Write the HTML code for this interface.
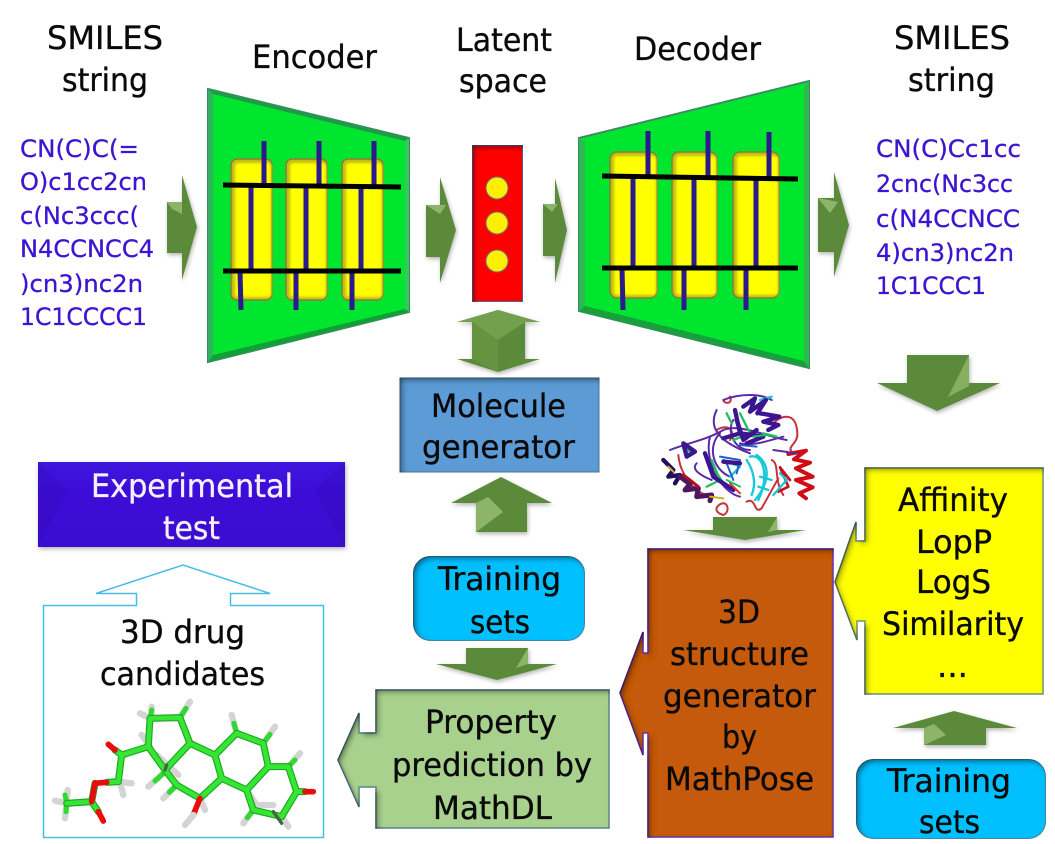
<!DOCTYPE html>
<html><head><meta charset="utf-8"><style>
html,body{margin:0;padding:0;background:#fff;width:1055px;height:844px;overflow:hidden}
svg{display:block}
text{font-family:"DejaVu Sans","Liberation Sans",sans-serif;font-size:32px;fill:#0a0a0a;stroke:#0a0a0a;stroke-width:.35px}
.b text{font-size:24px;fill:#3c14d2;stroke:#3c14d2;stroke-width:.3px}
text.w{fill:#f4f0ff;stroke:#f4f0ff}
</style></head><body>
<svg width="1055" height="844" viewBox="0 0 1055 844" xmlns="http://www.w3.org/2000/svg">
<defs>
<filter id="in" x="-5%" y="-5%" width="110%" height="110%">
<feOffset in="SourceAlpha" dx="3" dy="3"/><feGaussianBlur stdDeviation="3" result="b"/>
<feComposite in="SourceAlpha" in2="b" operator="out" result="e"/>
<feFlood flood-color="#000" flood-opacity=".75"/><feComposite in2="e" operator="in" result="s"/>
<feMerge><feMergeNode in="SourceGraphic"/><feMergeNode in="s"/></feMerge></filter>
<filter id="sh" x="-15%" y="-15%" width="130%" height="130%"><feDropShadow dx="1" dy="2" stdDeviation="2" flood-color="#000" flood-opacity=".3"/></filter>
<filter id="bl" x="-5%" y="-5%" width="110%" height="110%"><feGaussianBlur stdDeviation="1.200"/></filter>
<filter id="bl2" x="-10%" y="-10%" width="120%" height="120%"><feGaussianBlur stdDeviation=".45"/></filter>
<linearGradient id="exp" x1="0" y1="0" x2="0" y2="1"><stop offset="0" stop-color="#3e12dc"/><stop offset="1" stop-color="#3a0fd0"/></linearGradient>
</defs>

<!-- Encoder -->
<polygon points="208,89 409,138 409,312 208,362" fill="#00e62e" stroke="#3c8c62" stroke-width="2"/>
<polygon points="208,89 409,138 405,141 213,94" fill="#1f9a48"/>
<polygon points="208,89 213,94 213,355 208,362" fill="#35b060"/>
<polygon points="409,138 405,141 405,309 409,312" fill="#35c860"/>
<polygon points="208,362 213,355 405,309 409,312" fill="#10a035"/>
<g>
<rect x="231" y="159" width="41" height="141" rx="6" fill="#c4bc10" stroke="#85803a" stroke-width="1.500"/><rect x="286" y="159" width="41" height="141" rx="6" fill="#c4bc10" stroke="#85803a" stroke-width="1.500"/><rect x="342" y="159" width="41" height="141" rx="6" fill="#c4bc10" stroke="#85803a" stroke-width="1.500"/>
<rect x="235" y="163" width="36" height="134" rx="3" fill="#ffff00" filter="url(#bl)"/><rect x="290" y="163" width="36" height="134" rx="3" fill="#ffff00" filter="url(#bl)"/><rect x="346" y="163" width="36" height="134" rx="3" fill="#ffff00" filter="url(#bl)"/>
</g>
<g stroke="#2a1a8c" stroke-width="5">
<path d="M264 141V185M319 141V185M374 141V185M251 187V270M306 187V270M361 187V270M240 271L241 310M296 271V310M352 271V310"/>
</g>
<path d="M223 185L401 187M223 271H401" stroke="#000" stroke-width="5"/>

<!-- Latent -->
<rect x="472.500" y="145.500" width="50" height="156" fill="#ff0000" stroke="#5a6a9a" filter="url(#in)"/>
<g fill="#ffee00" stroke="#6a7a7a" stroke-width="1"><circle cx="497" cy="188" r="11"/><circle cx="497" cy="223" r="11"/><circle cx="497" cy="261" r="11"/></g>

<!-- Decoder -->
<polygon points="579,138 809,81 809,368 579,311" fill="#00e62e" stroke="#3c8c62" stroke-width="2"/>
<polygon points="579,138 585,142 585,306 579,311" fill="#2fb850"/>
<polygon points="579,311 585,306 804,361 809,368" fill="#18a03c"/>
<polygon points="809,81 804,87 804,361 809,368" fill="#2fb850"/>
<g>
<rect x="610" y="152" width="47" height="146" rx="7" fill="#c4bc10" stroke="#85803a" stroke-width="1.500"/><rect x="672" y="152" width="45" height="146" rx="7" fill="#c4bc10" stroke="#85803a" stroke-width="1.500"/><rect x="733" y="152" width="46" height="146" rx="7" fill="#c4bc10" stroke="#85803a" stroke-width="1.500"/>
<rect x="614" y="156" width="42" height="139" rx="3" fill="#ffff00" filter="url(#bl)"/><rect x="676" y="156" width="40" height="139" rx="3" fill="#ffff00" filter="url(#bl)"/><rect x="737" y="156" width="41" height="139" rx="3" fill="#ffff00" filter="url(#bl)"/>
</g>
<g stroke="#2a1a8c" stroke-width="5">
<path d="M648 131V176M708 131V177M769 132V178M633 178V268M694 178V268M756 179V268M622 268L623 310M684 268V310M746 268V310"/>
</g>
<path d="M602 176L798 179M602 268H798" stroke="#000" stroke-width="5"/>

<!-- Green arrows -->
<g filter="url(#sh)">
<polygon points="167,202 182,202 182,175 197,227 182,280 182,253 167,253" fill="#5c8a3a"/>
<polygon points="167,202 182,202 182,214 172,209" fill="#8db56a"/>
<polygon points="426,205 440,205 440,177 456,230 440,283 440,257 426,257" fill="#5c8a3a"/>
<polygon points="426,205 446,205 440,214" fill="#8db56a"/>
<polygon points="543,204 555,204 555,178 567,230 555,283 555,256 543,256" fill="#5c8a3a"/>
<polygon points="543,204 558,204 552,212" fill="#8db56a"/>
<polygon points="818,198 834,198 834,172 849,225 834,277 834,252 818,252" fill="#5c8a3a"/>
<polygon points="818,198 838,202 830,213" fill="#8db56a"/>
<polygon points="498,310 540,322 525,322 525,359 540,359 498,372 457,359 472,359 472,322 457,322" fill="#5c8a3a"/>
<polygon points="472,322 498,340 498,372 472,359" fill="#66933f"/>
<polygon points="498,310 540,322 525,322 498,340 472,322 457,322" fill="#72a04e"/>
<polygon points="907,355 969,355 969,383 1000,383 937,411 877,383 907,383" fill="#5c8a3a"/>
<polygon points="969,355 969,386 948,397" fill="#85b060"/>
<polygon points="501,477 552,503 527,503 527,532 476,532 476,503 451,503" fill="#5c8a3a"/>
<polygon points="476,503 488,497 503,512 476,532" fill="#8db56a"/>
<polygon points="466,648 528,648 528,664 557,664 497,680 436,664 466,664" fill="#5c8a3a"/>
<polygon points="528,648 528,664 516,668" fill="#8db56a"/>
<polygon points="713,517 777,517 777,530 806,530 745,540 683,530 713,530" fill="#5c8a3a"/>
<polygon points="777,517 777,530 768,532" fill="#8db56a"/>
<polygon points="954,711 1017,728 986,728 986,745 924,745 924,728 893,728" fill="#5c8a3a"/>
<polygon points="924,728 934,724 946,735 924,745" fill="#8db56a"/>
</g>

<!-- Boxes -->
<rect x="400" y="378" width="199" height="94" fill="#5b9bd5" stroke="#4f7a9a" filter="url(#in)"/>
<rect x="38" y="462" width="307" height="85" fill="url(#exp)" filter="url(#sh)"/>
<polygon points="38,462 68,490 38,547" fill="#2c0ca8" opacity=".25"/>
<polygon points="345,462 315,490 345,547" fill="#2c0ca8" opacity=".25"/>
<polygon points="43.500,605.500 136.500,605.500 136.500,593.500 96,593.500 183,565 270,593.500 230.500,593.500 230.500,605.500 323.500,605.500 323.500,837.500 43.500,837.500" fill="#fff" stroke="#48bce8" stroke-width="1.500"/>
<rect x="413.500" y="556.500" width="171" height="84" rx="17" fill="#00c0ff" stroke="#4a8ca8" filter="url(#in)"/>
<polygon points="376,690 609,690 609,828 376,828 376,787 359,787 359,807 338,760 359,713 359,733 376,733" fill="#a9d18e" stroke="#5f8a8f" stroke-width="1.500" filter="url(#in)"/>
<polygon points="648,549 833,549 833,837 648,837 648,733 643,733 643,755 620,693 643,632 643,653 648,653" fill="#c55a11" stroke="#6a35b0" stroke-width="1.500" filter="url(#in)"/>
<polygon points="865,468 1043,468 1043,694 865,694 865,621 857,621 857,640 835,582 856,522 856,541 865,541" fill="#ffff00" stroke="#6f9a7a" stroke-width="1.500" filter="url(#in)"/>
<rect x="856.500" y="759.500" width="189" height="79" rx="17" fill="#00c0ff" stroke="#4a8ca8" filter="url(#in)"/>

<!-- Protein -->
<g transform="translate(640 380) scale(.3333)" fill="none" stroke-linejoin="round" stroke-linecap="round" filter="url(#bl2)">
<g stroke="#c8303a" stroke-width="6">
<path d="M400,130C430,100 470,100 472,160C475,190 440,200 455,215"/>
<path d="M250,60C255,75 280,70 270,50"/>
<path d="M232,380C260,350 275,395 250,405C232,400 225,390 232,380Z"/>
<path d="M320,365C350,350 340,405 365,385L415,295"/>
<path d="M115,225C120,280 160,340 215,350"/>
<path d="M230,150C260,130 290,150 270,180"/>
<path d="M395,240C420,250 400,300 430,345"/>
</g>
<path d="M445,222L498,212L462,238L510,248L468,265L518,290L468,300L518,322L478,340L498,355" stroke="#d01018" stroke-width="12"/>
<path d="M450,300L420,262L445,320L415,335" stroke="#c01820" stroke-width="8"/>
<g stroke="#5a2aa8" stroke-width="6">
<path d="M250,60C300,40 360,40 395,60"/>
<path d="M90,210C140,190 200,180 250,150C300,130 380,170 440,180"/>
<path d="M210,170C190,250 250,340 300,350"/>
<path d="M230,90C200,150 250,190 330,220"/>
<path d="M400,210L470,220"/>
<path d="M240,160C200,200 220,270 270,290"/>
<path d="M170,250C150,270 190,290 215,300"/>
<path d="M300,190C340,200 390,180 430,170"/>
<path d="M280,120C260,150 280,210 330,210"/>
</g>
<g stroke="#18c8d8" stroke-width="7">
<path d="M330,230C370,220 390,290 355,360"/>
<path d="M350,225C400,260 380,320 345,360"/>
<path d="M320,240C340,270 350,310 335,345"/>
<path d="M250,240L300,260L270,290"/>
<path d="M420,280L440,300L400,345"/>
<path d="M360,60L395,50"/>
<path d="M360,290L395,300M355,320L385,330"/>
</g>
<g stroke="#2060c8" stroke-width="6"><path d="M240,230L300,240L290,280M260,250L280,300M300,195L350,200"/></g>
<g stroke="#20c060" stroke-width="7">
<path d="M215,240L240,300L200,320"/><path d="M300,100L330,160L280,180"/><path d="M370,160L410,170"/><path d="M130,205L160,220"/><path d="M225,270L250,310M260,100L275,130"/>
</g>
<g stroke="#3a1890" stroke-width="13">
<path d="M310,80L345,55L330,95L378,60L352,100"/>
<path d="M360,100L418,110L370,125L415,135L385,150"/>
<path d="M285,90L300,160L250,175"/><path d="M300,160L370,170L320,190"/>
<path d="M195,220L220,290L280,330"/>
<path d="M250,245L300,250"/>
<path d="M130,190L165,215L140,230Z"/>
<path d="M290,120L310,180L350,150"/>
</g>
<path d="M70,240L100,270L85,290L120,285L105,310" stroke="#201060" stroke-width="13"/>
<path d="M120,290L150,312L135,330L175,325L170,350L215,345L210,362" stroke="#501860" stroke-width="15"/>
<path d="M130,285L150,300L175,320" stroke="#b01020" stroke-width="9"/>
<path d="M210,350L250,355" stroke="#d0b020" stroke-width="6"/>
<path d="M85,260L100,275" stroke="#d0b020" stroke-width="6"/>
<path d="M270,310L300,340" stroke="#e03020" stroke-width="6"/>
<path d="M340,170L375,165M260,300L300,320" stroke="#20c060" stroke-width="6"/>
</g>

<!-- Molecule -->
<g transform="translate(40 695) scale(.3333)" fill="none" stroke-linecap="round" filter="url(#bl2)">
<g stroke="#d4d4d4" stroke-width="19">
<path d="M80,325L45,317M80,325L83,285M80,325L75,370M235,260L275,265M240,262L250,300M330,70L300,55M335,65L335,35M420,68L450,20M590,115L575,60M670,145L705,95M745,215L780,175M330,155L305,120M350,180L415,240M370,235L325,275M410,270L370,310M620,285L650,330M640,345L610,385M650,330L700,330M725,365L745,395M480,310L495,345"/>
</g>
<path d="M80,325L75,300M80,325L78,350M330,70L335,45M420,68L438,40M590,115L582,85M670,145L690,118M745,215L765,195M370,235L345,258M410,270L388,292M640,345L622,368" stroke="#30d830" stroke-width="15"/>
<g stroke="#1ea81e" stroke-width="21" stroke-linejoin="round">
<path d="M330,70L420,68L450,145L525,180L590,115L670,145L685,215L745,215L770,290L725,365L640,345L620,285L545,250L480,310L410,270L375,225L325,155L330,70"/>
<path d="M685,215L620,285M525,180L545,250M375,225L450,145M325,155L245,180L235,260L200,262M165,265L155,320L80,325M155,320L175,350M245,180L225,165M770,290L795,290"/>
</g>
<g stroke="#36e636" stroke-width="14" stroke-linejoin="round">
<path d="M330,70L420,68L450,145L525,180L590,115L670,145L685,215L745,215L770,290L725,365L640,345L620,285L545,250L480,310L410,270L375,225L325,155L330,70"/>
<path d="M685,215L620,285M525,180L545,250M375,225L450,145M325,155L245,180L235,260L200,262M165,265L155,320L80,325M155,320L175,350M245,180L225,165M770,290L795,290"/>
</g>
<path d="M200,262L165,265L155,320M175,350L190,378M225,165L205,148M795,290L820,290M480,310L460,360" stroke="#e81010" stroke-width="17"/>
<path d="M460,360L435,390" stroke="#d4d4d4" stroke-width="19"/>
<path d="M375,225L380,210M700,350L725,385" stroke="#446644" stroke-width="10"/>
</g>

<!-- Titles -->
<text x="47" y="49" textLength="116" lengthAdjust="spacingAndGlyphs">SMILES</text>
<text x="62" y="91" textLength="86" lengthAdjust="spacingAndGlyphs">string</text>
<text x="252" y="68" textLength="125" lengthAdjust="spacingAndGlyphs">Encoder</text>
<text x="456" y="51" textLength="96" lengthAdjust="spacingAndGlyphs">Latent</text>
<text x="459" y="92" textLength="88" lengthAdjust="spacingAndGlyphs">space</text>
<text x="634" y="60" textLength="127" lengthAdjust="spacingAndGlyphs">Decoder</text>
<text x="894" y="49" textLength="116" lengthAdjust="spacingAndGlyphs">SMILES</text>
<text x="908" y="91" textLength="87" lengthAdjust="spacingAndGlyphs">string</text>

<!-- SMILES strings -->
<g class="b">
<text x="20" y="157" textLength="119" lengthAdjust="spacingAndGlyphs">CN(C)C(=</text>
<text x="20" y="190" textLength="127" lengthAdjust="spacingAndGlyphs">O)c1cc2cn</text>
<text x="20" y="224" textLength="119" lengthAdjust="spacingAndGlyphs">c(Nc3ccc(</text>
<text x="20" y="257" textLength="134" lengthAdjust="spacingAndGlyphs">N4CCNCC4</text>
<text x="20" y="292" textLength="123" lengthAdjust="spacingAndGlyphs">)cn3)nc2n</text>
<text x="20" y="325" textLength="127" lengthAdjust="spacingAndGlyphs">1C1CCCC1</text>
<text x="876" y="157" textLength="145" lengthAdjust="spacingAndGlyphs">CN(C)Cc1cc</text>
<text x="876" y="192" textLength="137" lengthAdjust="spacingAndGlyphs">2cnc(Nc3cc</text>
<text x="876" y="227" textLength="144" lengthAdjust="spacingAndGlyphs">c(N4CCNCC</text>
<text x="876" y="261" textLength="138" lengthAdjust="spacingAndGlyphs">4)cn3)nc2n</text>
<text x="876" y="294" textLength="110" lengthAdjust="spacingAndGlyphs">1C1CCC1</text>
</g>

<!-- Box labels -->
<text x="431" y="417" textLength="135" lengthAdjust="spacingAndGlyphs">Molecule</text>
<text x="422" y="458" textLength="153" lengthAdjust="spacingAndGlyphs">generator</text>
<text class="w" x="91" y="497" textLength="202" lengthAdjust="spacingAndGlyphs">Experimental</text>
<text class="w" x="163" y="539" textLength="57" lengthAdjust="spacingAndGlyphs">test</text>
<text x="120" y="643" textLength="125" lengthAdjust="spacingAndGlyphs">3D drug</text>
<text x="100" y="685" textLength="165" lengthAdjust="spacingAndGlyphs">candidates</text>
<text x="438" y="590" textLength="123" lengthAdjust="spacingAndGlyphs">Training</text>
<text x="470" y="633" textLength="60" lengthAdjust="spacingAndGlyphs">sets</text>
<text x="425" y="733" textLength="132" lengthAdjust="spacingAndGlyphs">Property</text>
<text x="392" y="776" textLength="200" lengthAdjust="spacingAndGlyphs">prediction by</text>
<text x="433" y="819" textLength="119" lengthAdjust="spacingAndGlyphs">MathDL</text>
<text x="718" y="623" textLength="42" lengthAdjust="spacingAndGlyphs">3D</text>
<text x="670" y="665" textLength="139" lengthAdjust="spacingAndGlyphs">structure</text>
<text x="663" y="707" textLength="153" lengthAdjust="spacingAndGlyphs">generator</text>
<text x="722" y="748" textLength="35" lengthAdjust="spacingAndGlyphs">by</text>
<text x="665" y="790" textLength="149" lengthAdjust="spacingAndGlyphs">MathPose</text>
<text x="898" y="511" textLength="110" lengthAdjust="spacingAndGlyphs">Affinity</text>
<text x="916" y="553" textLength="76" lengthAdjust="spacingAndGlyphs">LopP</text>
<text x="916" y="593" textLength="75" lengthAdjust="spacingAndGlyphs">LogS</text>
<text x="882" y="635" textLength="142" lengthAdjust="spacingAndGlyphs">Similarity</text>
<text x="937" y="677" textLength="31" lengthAdjust="spacingAndGlyphs">...</text>
<text x="887" y="792" textLength="124" lengthAdjust="spacingAndGlyphs">Training</text>
<text x="919" y="833" textLength="61" lengthAdjust="spacingAndGlyphs">sets</text>
</svg>
</body></html>
